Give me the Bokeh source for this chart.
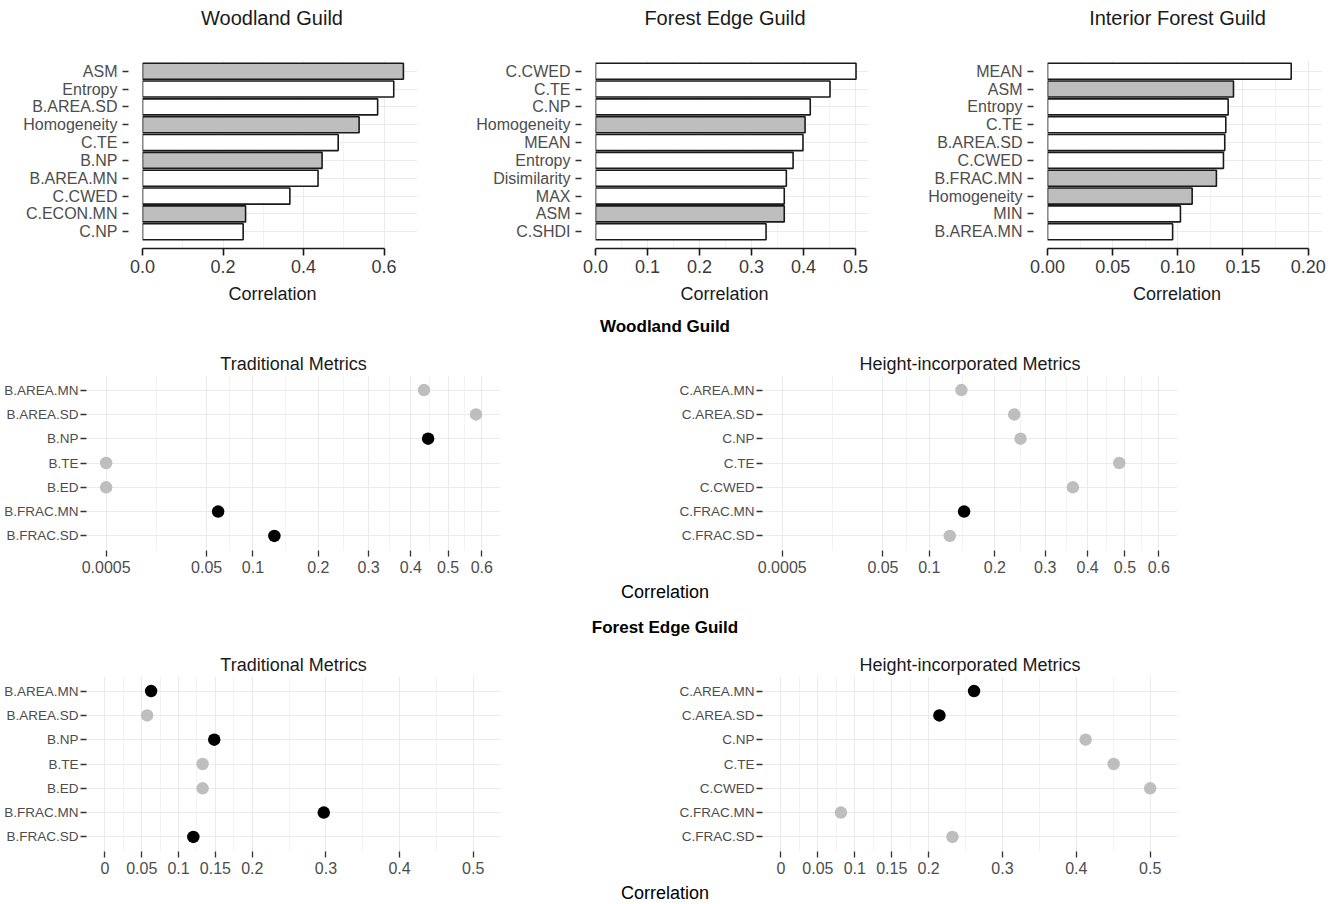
import numpy as np
from bokeh.plotting import figure
from bokeh.models import (ColumnDataSource, Range1d, FixedTicker, Div,
                          CustomJSTransform, CustomJSTickFormatter, NumeralTickFormatter)
from bokeh.transform import factor_cmap, transform
from bokeh.layouts import column, row
from bokeh.embed import file_html
from bokeh.resources import INLINE

FONT = "Liberation Sans"

# ---------------- Top row: bar charts ----------------
wood_metrics = ["ASM", "Entropy", "B.AREA.SD", "Homogeneity", "C.TE", "B.NP",
                "B.AREA.MN", "C.CWED", "C.ECON.MN", "C.NP"]
wood_corr = [0.648, 0.624, 0.584, 0.538, 0.486, 0.446, 0.436, 0.366, 0.256, 0.250]
wood_kind = ["grey", "white", "white", "grey", "white", "grey", "white", "white", "grey", "white"]

edge_metrics = ["C.CWED", "C.TE", "C.NP", "Homogeneity", "MEAN", "Entropy",
                "Disimilarity", "MAX", "ASM", "C.SHDI"]
edge_corr = [0.501, 0.451, 0.413, 0.403, 0.399, 0.380, 0.367, 0.363, 0.363, 0.328]
edge_kind = ["white", "white", "white", "grey", "white", "white", "white", "white", "grey", "white"]

int_metrics = ["MEAN", "ASM", "Entropy", "C.TE", "B.AREA.SD", "C.CWED",
               "B.FRAC.MN", "Homogeneity", "MIN", "B.AREA.MN"]
int_corr = [0.187, 0.1427, 0.1386, 0.1368, 0.136, 0.135, 0.1296, 0.111, 0.102, 0.096]
int_kind = ["white", "grey", "white", "white", "white", "white", "grey", "grey", "white", "white"]

# ---------------- Middle row: Woodland guild dot charts ----------------
trad_metrics = ["B.AREA.MN", "B.AREA.SD", "B.NP", "B.TE", "B.ED", "B.FRAC.MN", "B.FRAC.SD"]
height_metrics = ["C.AREA.MN", "C.AREA.SD", "C.NP", "C.TE", "C.CWED", "C.FRAC.MN", "C.FRAC.SD"]

wood_trad_corr = [0.434, 0.582, 0.445, 0.0005, 0.0005, 0.0608, 0.129]
wood_trad_sig = ["grey", "grey", "black", "grey", "grey", "black", "black"]
wood_height_corr = [0.1447, 0.236, 0.2484, 0.484, 0.3637, 0.1488, 0.1275]
wood_height_sig = ["grey", "grey", "grey", "grey", "grey", "black", "grey"]
wood_tick_vals = [0.0005, 0.05, 0.1, 0.2, 0.3, 0.4, 0.5, 0.6]
wood_tick_labels = ["0.0005", "0.05", "0.1", "0.2", "0.3", "0.4", "0.5", "0.6"]

# ---------------- Bottom row: Forest edge guild dot charts ----------------
edge_trad_corr = [0.0627, 0.0573, 0.1484, 0.1326, 0.1326, 0.2971, 0.120]
edge_trad_sig = ["black", "grey", "black", "grey", "grey", "black", "black"]
edge_height_corr = [0.2615, 0.2146, 0.4126, 0.4505, 0.500, 0.0812, 0.2322]
edge_height_sig = ["black", "black", "grey", "grey", "grey", "grey", "grey"]
edge_tick_vals = [0, 0.05, 0.1, 0.15, 0.2, 0.3, 0.4, 0.5]
edge_tick_labels = ["0", "0.05", "0.1", "0.15", "0.2", "0.3", "0.4", "0.5"]

GRID = "#EBEBEB"
MINOR = "#F4F4F4"
TXT = "#4D4D4D"


def bar_panel(metrics, corr, kind, xmax, bound, ticks, fmt, width, left, right):
    n = len(metrics)
    src = ColumnDataSource(dict(pos=list(range(n)), corr=corr, kind=kind))
    p = figure(width=width, height=246, output_backend="svg", toolbar_location=None,
               title=None,
               x_range=Range1d(0, xmax), y_range=Range1d(n - 1 + 0.94, -0.6),
               min_border_left=left, min_border_right=right,
               min_border_top=24, min_border_bottom=34)
    p.hbar(y="pos", left=0, right="corr", height=0.9, source=src,
           fill_color=factor_cmap("kind", ["#BEBEBE", "#FFFFFF"], ["grey", "white"]),
           line_color="#1A1A1A", line_width=1.6)
    p.outline_line_color = None

    minor = [(a + b) / 2 for a, b in zip(ticks[:-1], ticks[1:])]
    xa = p.xaxis[0]
    xa.ticker = FixedTicker(ticks=ticks, minor_ticks=minor)
    xa.formatter = NumeralTickFormatter(format=fmt)
    xa.bounds = (0, bound)
    xa.axis_line_color = "#1A1A1A"
    xa.axis_line_width = 1.6
    xa.major_tick_in = 0
    xa.major_tick_out = 7
    xa.major_tick_line_color = "#1A1A1A"
    xa.major_tick_line_width = 1.6
    xa.minor_tick_line_color = None
    xa.major_label_text_font = FONT
    xa.major_label_text_font_size = "18px"
    xa.major_label_text_color = "#3A3A3A"
    xa.major_label_standoff = 4

    ya = p.yaxis[0]
    ya.ticker = FixedTicker(ticks=list(range(n)))
    ya.major_label_overrides = {i: m for i, m in enumerate(metrics)}
    ya.axis_line_color = None
    ya.major_tick_in = -14
    ya.major_tick_out = 20
    ya.major_tick_line_color = "#333333"
    ya.major_tick_line_width = 1.4
    ya.minor_tick_line_color = None
    ya.major_label_text_font = FONT
    ya.major_label_text_font_size = "16px"
    ya.major_label_text_color = TXT
    ya.major_label_standoff = 5

    p.xgrid.grid_line_color = GRID
    p.xgrid.minor_grid_line_color = MINOR
    p.ygrid.grid_line_color = GRID
    return p


sqrt_tf = CustomJSTransform(v_func="""
const out = new Float64Array(xs.length);
for (let i = 0; i < xs.length; i++) out[i] = Math.sqrt(xs[i]);
return out;
""")


def dot_panel(subtitle, metrics, corr, sig, use_sqrt, xr, tick_vals, tick_labels,
              width, left, right, top):
    n = len(metrics)
    src = ColumnDataSource(dict(pos=list(range(n)), corr=corr, sig=sig))
    p = figure(width=width, height=239, output_backend="svg", toolbar_location=None,
               x_range=Range1d(*xr), y_range=Range1d(n - 1 + 0.6, -0.6),
               min_border_left=left, min_border_right=right,
               min_border_top=top, min_border_bottom=239 - top - 175)
    if use_sqrt:
        tick_pos = [float(v) for v in np.sqrt(np.array(tick_vals))]
        xfield = transform("corr", sqrt_tf)
    else:
        tick_pos = [float(v) for v in tick_vals]
        xfield = "corr"
    minor = [(a + b) / 2 for a, b in zip(tick_pos[:-1], tick_pos[1:])]
    p.scatter(x=xfield, y="pos", source=src, size=12.5, line_color=None,
              fill_color=factor_cmap("sig", ["#000000", "#BEBEBE"], ["black", "grey"]))
    p.outline_line_color = None
    p.title.text = subtitle
    p.title.align = "center"
    p.title.standoff = 3
    p.title.text_font = FONT
    p.title.text_font_size = "18px"
    p.title.text_font_style = "normal"
    p.title.text_color = "#1A1A1A"

    xa = p.xaxis[0]
    xa.ticker = FixedTicker(ticks=tick_pos, minor_ticks=minor)
    xa.formatter = CustomJSTickFormatter(args=dict(pos=tick_pos, labels=tick_labels), code="""
const i = pos.findIndex(t => Math.abs(t - tick) < 1e-9);
return i >= 0 ? labels[i] : '';
""")
    xa.axis_line_color = None
    xa.major_tick_in = 0
    xa.major_tick_out = 6
    xa.major_tick_line_color = "#333333"
    xa.major_tick_line_width = 1.3
    xa.minor_tick_line_color = None
    xa.major_label_text_font = FONT
    xa.major_label_text_font_size = "16px"
    xa.major_label_text_color = TXT
    xa.major_label_standoff = 4

    ya = p.yaxis[0]
    ya.ticker = FixedTicker(ticks=list(range(n)))
    ya.major_label_overrides = {i: m for i, m in enumerate(metrics)}
    ya.axis_line_color = None
    ya.major_tick_in = 0
    ya.major_tick_out = 6
    ya.major_tick_line_color = "#333333"
    ya.major_tick_line_width = 1.4
    ya.minor_tick_line_color = None
    ya.major_label_text_font = FONT
    ya.major_label_text_font_size = "13.5px"
    ya.major_label_text_color = TXT
    ya.major_label_standoff = 2

    p.xgrid.grid_line_color = GRID
    p.xgrid.minor_grid_line_color = MINOR
    p.ygrid.grid_line_color = GRID
    return p


def label_div(text, width, height, line_height, size, bold=False, pad_left=0, pad_right=0,
              color="#000"):
    weight = "bold" if bold else "normal"
    html = (f'<div style="width:{width}px;text-align:center;font-family:\'{FONT}\';'
            f'font-size:{size}px;font-weight:{weight};line-height:{line_height}px;'
            f'color:{color};white-space:nowrap;padding-left:{pad_left}px;'
            f'padding-right:{pad_right}px;box-sizing:border-box">{text}</div>')
    return Div(text=html, width=width, height=height, margin=(0, 0, 0, 0))


p1 = bar_panel(wood_metrics, wood_corr, wood_kind, 0.683, 0.6,
               [0, 0.2, 0.4, 0.6], "0.0", 445, 142, 28)
p2 = bar_panel(edge_metrics, edge_corr, edge_kind, 0.525, 0.5,
               [0, 0.1, 0.2, 0.3, 0.4, 0.5], "0.0", 445, 150, 22)
p3 = bar_panel(int_metrics, int_corr, int_kind, 0.211, 0.2,
               [0, 0.05, 0.1, 0.15, 0.2], "0.00", 447, 157, 15)

t1 = label_div("Woodland Guild", 445, 36, 36, 20, pad_left=99, color="#1A1A1A")
t2 = label_div("Forest Edge Guild", 445, 36, 36, 20, pad_left=115, color="#1A1A1A")
t3 = label_div("Interior Forest Guild", 447, 36, 36, 20, pad_left=128, color="#1A1A1A")

c1 = label_div("Correlation", 445, 28, 24, 18, pad_left=100, color="#1A1A1A")
c2 = label_div("Correlation", 445, 28, 24, 18, pad_left=114, color="#1A1A1A")
c3 = label_div("Correlation", 447, 28, 24, 18, pad_left=127, color="#1A1A1A")

sq_range = (-0.017, 0.812)
p4 = dot_panel("Traditional Metrics", trad_metrics, wood_trad_corr, wood_trad_sig, True,
               sq_range, wood_tick_vals, wood_tick_labels, 667, 86, 167, 32)
p5 = dot_panel("Height-incorporated Metrics", height_metrics, wood_height_corr, wood_height_sig,
               True, sq_range, wood_tick_vals, wood_tick_labels, 670, 95, 160, 32)

lin_range = (-0.025, 0.537)
p6 = dot_panel("Traditional Metrics", trad_metrics, edge_trad_corr, edge_trad_sig, False,
               lin_range, edge_tick_vals, edge_tick_labels, 667, 86, 167, 34)
p7 = dot_panel("Height-incorporated Metrics", height_metrics, edge_height_corr, edge_height_sig,
               False, lin_range, edge_tick_vals, edge_tick_labels, 670, 95, 160, 34)

W = 1337
layout = column(
    row(t1, t2, t3),
    row(p1, p2, p3),
    row(c1, c2, c3),
    label_div("Woodland Guild", W, 33, 34, 17, bold=True, pad_right=7),
    row(p4, p5),
    label_div("Correlation", W, 30, 20, 18, pad_right=7),
    label_div("Forest Edge Guild", W, 30, 32, 17, bold=True, pad_right=7),
    row(p6, p7),
    label_div("Correlation", W, 23, 24, 18, pad_right=7),
    spacing=0,
)

open("out.html", "w").write(file_html(layout, INLINE))
